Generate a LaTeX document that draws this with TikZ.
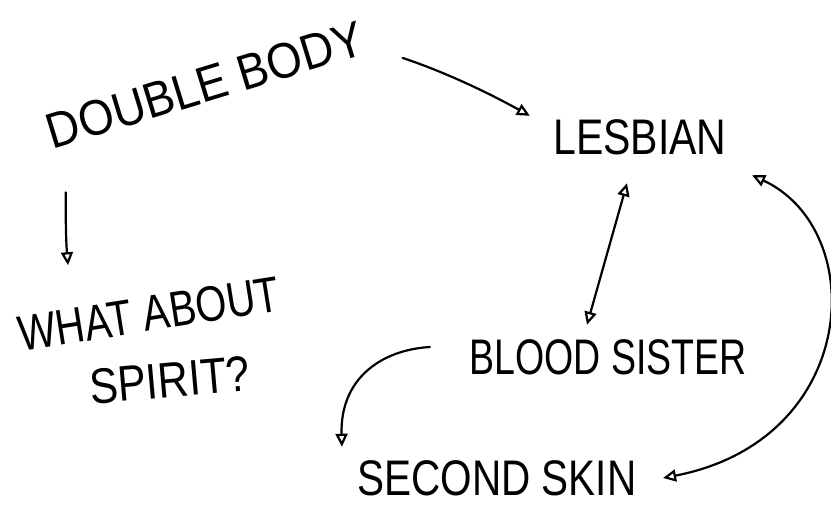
\documentclass[tikz,border=0pt]{standalone}
\usepackage{fontspec}
\setmainfont{Liberation Sans}
\usepackage{graphicx}
\usetikzlibrary{arrows.meta,calc}
\tikzset{
  word/.style={inner sep=3.33pt, text=black, font=\fontsize{50}{50}\selectfont},
  pen/.style={line width=2.2pt, line cap=round, line join=round, draw=black},
  arr/.style={pen, -{Triangle[open,length=13pt,width=12pt]}},
  arrboth/.style={pen, {Triangle[open,length=13pt,width=12pt]}-{Triangle[open,length=13pt,width=12pt]}},
}
\begin{document}
\begin{tikzpicture}[x=1pt,y=-1pt]
\useasboundingbox (0,0) rectangle (831,510);
\fill[white] (0,0) rectangle (831,510);

\node[word, rotate=17] (db) at (205,85) {\scalebox{0.91}[1]{DOUBLE BODY}};
\node[word] (les) at (640,137) {\scalebox{0.82}[1]{LESBIAN}};
\node[word, rotate=9] (what) at (149,314) {\scalebox{0.80}[1]{WHAT ABOUT}};
\node[word, rotate=5] (spirit) at (170,380) {\scalebox{0.85}[1]{SPIRIT?}};
\node[word] (blood) at (608,357) {\scalebox{0.75}[1]{BLOOD SISTER}};
\node[word] (skin) at (497,478) {\scalebox{0.81}[1]{SECOND SKIN}};

% DOUBLE BODY -> LESBIAN
\draw[arr] ($(db.east)+(37,22)$) .. controls +(45,15) and +(-40,-22) .. ($(les.north west)+(-20,0)$);
% DOUBLE BODY -> WHAT ABOUT SPIRIT?
\draw[arr] ($(db.south west)+(15,38)$) .. controls +(0,30) and +(-2,-25) .. ($(what.north west)+(56,-49)$);
% LESBIAN <-> BLOOD SISTER
\draw[arrboth] ($(les.south)+(-13,25)$) -- ($(blood.north)+(-21,-11)$);
% LESBIAN <-> SECOND SKIN
\draw[arrboth] ($(les.south east)+(22,17)$) .. controls +(118,55) and +(197,-38) .. ($(skin.east)+(23,0)$);
% BLOOD SISTER -> SECOND SKIN
\draw[arr] ($(blood.west)+(-36,-10)$) .. controls +(-50,3) and +(-2,-67) .. ($(skin.north west)+(-12,-10)$);
\end{tikzpicture}
\end{document}
